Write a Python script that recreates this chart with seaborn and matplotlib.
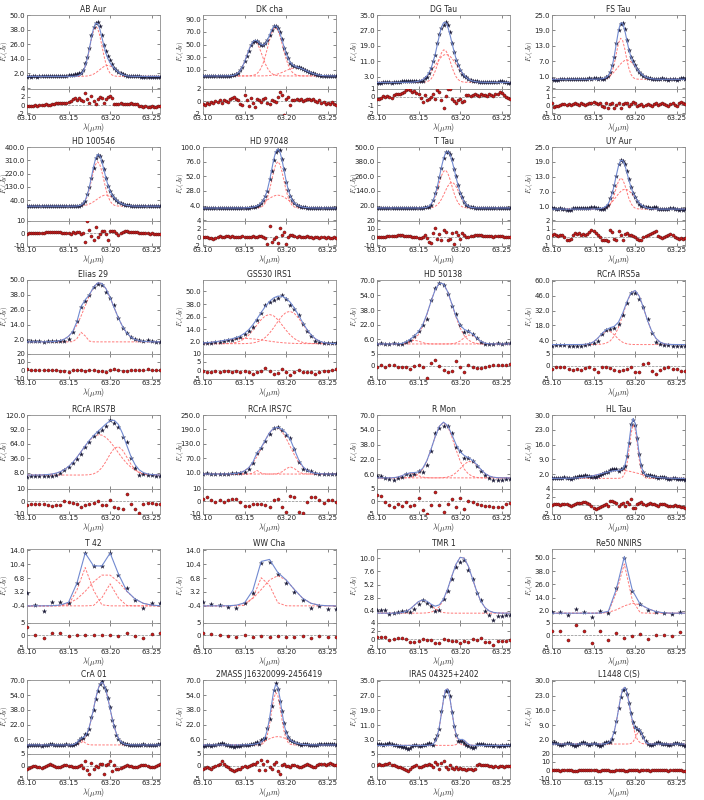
import numpy as np
import matplotlib
matplotlib.use("Agg")
import matplotlib.pyplot as plt
import seaborn as sns

X_MIN, X_MAX = 63.10, 63.26

names = ["AB Aur", "DK cha", "DG Tau", "FS Tau",
         "HD 100546", "HD 97048", "T Tau", "UY Aur",
         "Elias 29", "GSS30 IRS1", "HD 50138", "RCrA IRS5a",
         "RCrA IRS7B", "RCrA IRS7C", "R Mon", "HL Tau",
         "T 42", "WW Cha", "TMR 1", "Re50 NNIRS",
         "CrA 01", "2MASS J16320099-2456419", "IRAS 04325+2402", "L1448 C(S)"]

# continuum level of each fit (Jy)
baselines = [-0.5, 0, 0, 0,
             0, 0, 0, 0,
             0, 0, 1, 0,
             4, 5, 2, 0,
             -0.4, -0.4, 0, 0,
             0, 0, 0, 0]

# gaussian components: (amplitude Jy, centre um, sigma um)
g_ab_aur = [(41, 63.183, 0.0072), (9, 63.197, 0.0095)]
g_dk_cha = [(55, 63.162, 0.009), (77, 63.187, 0.009), (13, 63.212, 0.013)]
g_dg_tau = [(17, 63.181, 0.0075), (14.5, 63.183, 0.013)]
g_fs_tau = [(16, 63.183, 0.0058), (7.5, 63.19, 0.011)]
g_hd100546 = [(300, 63.185, 0.0072), (75, 63.195, 0.011)]
g_hd97048 = [(76, 63.19, 0.0072), (21, 63.19, 0.013)]
g_t_tau = [(310, 63.182, 0.0078), (210, 63.19, 0.0085)]
g_uy_aur = [(12.5, 63.183, 0.0065), (8, 63.188, 0.011)]
g_elias29 = [(48, 63.187, 0.017), (8, 63.166, 0.004)]
g_gss30 = [(28, 63.18, 0.016), (31, 63.204, 0.016), (5, 63.15, 0.025)]
g_hd50138 = [(67, 63.177, 0.014), (10, 63.212, 0.008), (4, 63.145, 0.007)]
g_irs5a = [(51, 63.199, 0.0125), (13, 63.167, 0.0095)]
g_irs7b = [(78, 63.187, 0.021), (55, 63.209, 0.0115)]
g_irs7c = [(193, 63.188, 0.0165), (15, 63.165, 0.003), (30, 63.205, 0.0065)]
g_r_mon = [(60, 63.18, 0.013), (18, 63.212, 0.011), (5, 63.14, 0.008)]
g_hl_tau = [(25.5, 63.198, 0.0048), (3.8, 63.182, 0.022)]
g_t42 = [(9.9, 63.17, 0.0075), (8.2, 63.195, 0.02), (5.7, 63.20, 0.007)]
g_ww_cha = [(7.8, 63.173, 0.008), (7.8, 63.19, 0.018)]
g_tmr1 = [(2.4, 63.155, 0.01), (10.3, 63.202, 0.013)]
g_re50 = [(45, 63.186, 0.0065), (9, 63.198, 0.014)]
g_cra01 = [(68, 63.19, 0.0095), (5, 63.165, 0.004)]
g_2mass = [(57, 63.188, 0.0058), (9, 63.19, 0.013)]
g_iras = [(31, 63.184, 0.006), (3, 63.203, 0.004)]
g_l1448 = [(27, 63.187, 0.007), (6, 63.205, 0.004)]

# residuals (data - fit, Jy), evenly sampled across each spectrum
r_ab_aur = [-0.2, -0.1, -0.3, -0.1, 0.0, -0.2, 0.1, 0.0, 0.1, 0.2, 0.1, 0.0, 0.2, 0.3, 0.6, 0.4, 0.5, 0.5, 0.4, 0.6, 0.7,
            0.9, 1.4, 1.6, 1.3, 1.7, 1.2, 1.0, 3.0, 1.5, 0.4, 2.2, 1.0, 0.3, 1.4, 1.9, 1.8, 0.6, 1.5, 2.0, 2.3, 1.7,
            0.3, 0.3, 0.2, 0.4, 0.3, 0.3, 0.2, 0.3, 0.4, 0.3, 0.2, 0.2, -0.1, -0.2, -0.4, -0.3, -0.5, -0.4, -0.3, -0.5, -0.4, -0.2, -0.3]
r_dk_cha = [-0.5, -0.6, -0.3, -0.4, -0.2, -0.3, 0.0, -0.1, 0.2, -0.3, 0.1, 0.0, -0.2, 0.3, 0.5, 0.7, 0.4, 0.2, -0.4, -0.6, 0.9,
            0.2, -0.8, 0.5, -0.3, -0.9, 0.3, 0.1, -0.2, 0.4, 0.5, -0.3, -0.5, 0.2, 0.0, -0.2, 0.6, 1.4, 0.9, -2.3, 0.3, 0.7,
            -0.6, 0.2, 0.1, 0.3, 0.2, 0.3, 0.0, 0.2, 0.4, 0.3, 0.1, 0.3, 0.0, -0.1, 0.1, -0.3, -0.2, -0.4, -0.3, -0.5, -0.2, -0.4, -0.6]
r_dg_tau = [-0.3, -0.2, -0.1, 0.1, 0.0, 0.1, 0.0, -0.1, 0.2, 0.3, 0.4, 0.3, 0.5, 0.6, 0.8, 0.9, 0.8, 0.6, 0.7, 0.5, 0.3,
            -0.1, -0.6, 0.2, -0.4, -0.3, 0.0, 0.4, -0.2, 0.8, 0.6, -0.4, -1.3, 0.1, 0.9, 1.0, -0.3, -0.5, -0.7, -0.4, -0.2, -0.6,
            -0.5, 0.2, 0.2, 0.1, 0.2, 0.3, 0.2, 0.1, 0.3, 0.2, 0.2, 0.1, 0.3, 0.2, 0.1, 0.3, 0.4, 0.6, 0.5, 0.2, 0.0, -0.1, -0.3]
r_fs_tau = [0.2, -0.2, -0.1, -0.1, 0.0, 0.1, 0.1, 0.0, 0.1, 0.0, 0.1, 0.2, 0.1, 0.0, 0.2, 0.1, 0.0, 0.1, 0.3, 0.2, 0.4,
            0.3, 0.1, 0.2, -0.1, -0.2, 0.2, -0.3, 0.1, 0.3, -0.4, 0.0, 0.2, -0.4, 0.1, 0.3, 0.2, -0.1, 0.1, 0.4, 0.2, -0.1,
            0.0, 0.1, -0.1, 0.0, 0.1, 0.0, -0.1, 0.1, 0.2, 0.0, 0.1, 0.3, 0.1, 0.0, -0.1, 0.1, 0.2, 0.0, -0.1, 0.2, 0.4, 0.3, 0.1]
r_hd100546 = [-0.5, -0.3, 0.2, -0.2, 0.1, 0.3, 0.0, 0.4, 0.2, 0.6, 0.8, 0.5, 0.7, 1.0, 0.8, 0.5, 0.7, 0.4, 0.3, 0.2, 0.1,
              -0.5, 0.6, -0.2, 1.2, 0.5, -0.8, 0.4, -7.5, 9.5, 2.5, -2.5, -5.5, 4.5, -3.0, -0.5, 2.0, 1.5, -1.0, -5.5, 1.5, 2.0,
              1.5, 0.0, -1.5, 0.2, 0.8, 1.3, 1.5, 1.2, 1.0, 0.8, 0.6, 0.5, 0.3, 0.4, 0.2, 0.0, -0.2, -0.4, -0.3, -0.6, -0.8, -1.0, -0.8]
r_hd97048 = [0.1, 0.0, 0.1, -0.1, -0.3, -0.4, -0.2, 0.1, 0.2, 0.1, 0.0, 0.3, 0.2, 0.1, 0.2, 0.0, 0.1, 0.0, 0.1, 0.2, 0.0,
             0.1, 0.0, 0.1, 0.2, 0.0, 0.1, 0.2, 0.3, 0.1, -0.2, -1.7, 2.7, -1.2, -0.4, 0.0, -1.4, 2.1, 0.5, 1.3, -1.6, 0.1,
             0.6, 0.4, 0.2, 0.1, 0.2, 0.1, 0.0, 0.1, 0.2, 0.1, 0.0, -0.1, 0.1, 0.0, -0.1, 0.0, 0.1, -0.1, 0.0, -0.2, -0.1, 0.0, -0.1]
r_t_tau = [0.0, 0.3, 0.5, 0.2, 0.6, 0.8, 1.0, 1.2, 1.5, 1.8, 2.0, 2.2, 2.0, 1.8, 1.5, 1.2, 0.8, 0.5, 0.3, 0.0, -0.5,
           -1.0, 0.5, 3.0, -0.8, -5.5, -7.5, 5.0, 10.5, -2.0, 3.5, -3.5, 8.0, 6.0, -4.0, -2.5, 5.5, -8.5, 6.5, 2.0, -2.5, 5.5,
           2.0, 0.5, 0.3, 0.8, 1.5, 2.0, 2.5, 2.2, 2.0, 1.8, 1.5, 1.2, 1.0, 0.8, 0.5, 0.8, 1.0, 1.2, 0.8, 0.5, 0.3, 0.2, 0.4]
r_uy_aur = [0.3, 0.4, 0.2, 0.1, 0.3, 0.2, 0.0, -0.3, -0.4, -0.2, 0.3, 0.5, 0.4, 0.5, 0.3, 0.4, 0.3, 0.4, 0.6, 0.8, 0.7,
            0.5, 0.3, 0.0, -0.3, -0.4, -0.4, -0.5, 0.8, 0.6, -0.2, -0.4, 0.7, 0.2, -0.3, 0.4, 0.5, 0.3, 0.2, 0.1, 0.0, -0.2,
            -0.4, -0.3, 0.0, 0.1, 0.3, 0.4, 0.5, 0.6, 0.7, 0.1, 0.0, -0.1, 0.0, 0.1, 0.2, 0.4, 0.3, 0.0, -0.1, -0.2, -0.1, -0.2, -0.1]
r_elias29 = [1.0, 0.8, 0.5, 0.3, 0.2, 0.5, 0.4, 0.3, -0.5, -1.5, -2.0, -0.2, 0.3, -0.3, -1.0, 0.2, 0.5,
             -0.5, -1.2, -2.5, 0.0, 2.0, 0.3, -0.8, -0.5, 0.0, 0.5, 0.8, 0.5, 1.0, 0.5, 0.0, 0.2]
r_gss30 = [-0.3, -0.8, -1.0, -0.5, -1.0, -0.7, -0.4, -1.2, -0.3, -0.8, -0.5, -1.0, -2.0, -1.3, -0.5, 1.2, -0.5,
           -2.2, -1.5, 0.8, -0.8, -2.8, -1.2, 0.2, -1.2, -1.3, -0.8, -2.0, -1.0, -0.5, -0.3, 0.2, 0.5]
r_hd50138 = [-0.3, 0.5, -0.5, 0.3, 0.5, -0.2, -0.3, -0.5, -1.2, 0.0, 0.3, -0.2, -4.8, 1.2, 2.3, 0.0, -1.5,
             -2.5, -2.0, 2.0, -0.5, -2.5, 0.3, -0.2, -0.7, -0.8, -0.5, 0.0, 0.3, 0.5, 0.4, 0.5, 0.8]
r_irs5a = [-1.0, -0.3, -0.3, -0.5, -1.0, -1.5, -1.3, -1.5, -0.8, -0.5, -1.2, -2.5, -0.5, -0.3, -0.8, -1.5, -2.0,
           -1.5, -1.0, -0.5, -2.5, -2.5, 1.0, 1.2, -2.0, -3.0, -1.5, -0.8, -0.5, -1.2, -1.2, -1.8, -1.8]
r_irs7b = [-3.0, -2.5, -2.0, -2.5, -2.0, -3.5, -4.0, -3.0, -3.0, 0.0, -1.0, -1.5, -2.5, -5.0, -3.0, -2.5, -1.5,
           0.0, -3.5, -3.5, 0.5, -5.0, -5.5, -6.5, 6.0, -2.5, -6.0, -9.5, -2.5, -1.5, -1.5, -2.0, -2.5]
r_irs7c = [2.0, 3.0, 0.5, -0.5, 1.0, -0.5, 1.0, 2.0, 1.5, -1.0, -4.0, -4.0, -2.5, -2.0, -2.0, -3.5, -5.0,
           0.5, 1.5, -4.5, -9.0, 4.0, 3.0, -9.0, -9.5, -1.0, 3.0, 3.0, 0.5, -1.5, 1.0, 0.5, -0.5]
r_r_mon = [2.5, 2.0, -0.5, -1.5, -2.5, -1.0, -1.8, -0.5, -2.0, -1.5, 1.2, -3.5, -5.0, -1.5, 3.5, -1.5, -4.5,
           -1.0, 1.0, -2.5, 1.2, -3.0, 0.0, -0.5, -1.0, -1.5, -2.0, -2.0, -2.5, -2.5, -2.5, -1.0, -0.8]
r_hl_tau = [0.1, 0.2, 0.3, 0.2, 0.0, 0.2, 0.4, 0.3, 0.1, -0.2, 0.0, 0.3, 0.5, 0.6, 0.5, 0.7, 0.8, 0.5, 0.2, -0.3, -0.6,
            -0.8, -0.6, -0.4, -0.2, 0.0, 0.2, -0.1, 0.9, 1.0, 0.8, 0.6, -0.3, 0.3, 0.5, -0.2, 0.8, 0.3, 1.4, -0.6, -0.7, 0.2,
            0.6, 0.7, 0.2, 0.0, 0.3, 0.5, 0.4, 0.2, 0.0, -0.1, 0.2, 0.4, 0.3, 0.1, -0.2, -0.3, -0.1, 0.0, -0.2, -0.3, -0.4, -0.5, -0.6]
r_t42 = [3.4, 0.2, -1.3, 1.0, 0.8, -0.3, 0.0, 0.0, 0.0, 0.0, 0.0, -0.3, 0.8, -0.3, -1.3, 0.5, 0.7]
r_ww_cha = [1.0, 0.6, 0.1, -0.3, -0.6, -0.1, -0.6, -0.3, -0.7, -0.3, -0.8, -0.7, -0.3, -1.3, -0.2, -0.8, -0.7]
r_tmr1 = [0.5, 0.5, 0.5, -0.1, 0.1, 0.2, 0.2, 0.1, -0.6, -0.7, -0.5, 0.0, -0.3, -0.3, -0.8, -0.9, 0.0,
          -0.3, -0.5, -0.5, -0.8, -0.4, -0.7, 0.0, -0.3, 0.3, -0.7, -0.7, -1.4, -0.5, -0.5, -0.4, -0.3]
r_re50 = [1.5, 1.5, -2.0, 4.0, 1.5, -3.0, 1.5, -2.0, 1.0, -1.0, -0.5, 0.3, -1.5, 0.2, 0.0, -0.5, 1.1, -1.0]
r_cra01 = [-1.0, -0.6, -0.2, 0.2, 0.0, -0.3, -0.5, -0.8, -0.5, 0.0, 0.4, 0.8, 0.5, 0.0, -0.3, -0.5, -0.2, 0.0, 0.3, 0.5, 0.2,
           0.0, -0.2, -0.5, -0.3, 0.0, 0.5, -0.8, 2.0, -1.5, -3.0, 1.2, -1.0, 0.2, -0.5, 0.8, 1.0, -3.0, 0.6, 0.8, 2.2, -1.8,
           0.5, -1.2, -1.0, -0.6, -0.3, 0.0, 0.4, 0.2, 0.0, -0.3, -0.5, -0.2, 0.0, 0.3, 0.5, 0.4, 0.0, -0.2, -0.4, -0.2, 0.2, 0.5, 0.8]
r_2mass = [-1.0, -0.8, -0.3, -0.6, -1.0, -0.5, 0.0, 0.5, 1.0, 2.0, 0.8, 0.0, -0.5, -1.0, -1.5, -1.8, -1.5, -1.2, -1.0, -0.5, 0.0,
           -0.3, 0.2, 0.5, 0.8, 1.0, 1.5, -1.5, 2.5, 0.8, -1.5, 2.0, -0.5, -1.2, 1.0, 1.5, -2.0, -3.0, 0.5, 0.8, 0.2, 0.0,
           -0.5, 0.3, 0.5, 0.0, -0.3, -0.5, 0.0, 0.5, 0.8, 0.3, 0.0, -0.5, -0.2, 0.3, 0.8, 1.0, 0.7, 0.5, 0.8, 1.2, 1.0, 0.5, 0.3]
r_iras = [0.5, 0.8, 0.6, 0.3, 1.0, 0.8, 1.2, 0.5, 0.3, 0.0, -0.5, -0.3, -0.8, -1.0, -1.5, -1.8, -1.2, -0.5, 0.0, 0.3, -0.2,
          -0.5, 0.0, 0.3, 0.5, 1.0, 0.3, -0.5, 1.5, 0.8, -1.0, 1.2, 2.0, -0.5, -1.0, 0.5, -0.8, -1.0, -0.5, -1.2, -0.8, -1.0,
          -1.3, -1.5, -1.0, -1.2, -1.5, -1.0, 0.5, 0.8, 0.6, 0.5, 0.4, 0.3, 0.2, 0.0, -0.2, 0.0, -0.3, -0.1, 0.0, -0.2, 0.0, 0.1, 0.0]
r_l1448 = [0.5, 0.8, 0.3, 0.0, -0.5, -0.3, 0.2, 0.5, 0.3, 0.0, -0.4, -0.8, -0.5, 0.0, 0.5, 0.8, 0.4, 0.0, -0.3, 0.2, 0.5,
           0.0, -0.5, -0.8, -0.3, 0.5, 0.8, 0.2, -0.5, -1.0, -0.5, 0.3, 0.8, 0.5, -0.2, -0.8, -1.0, -0.3, 0.5, 0.8, 0.3, -0.2,
           -0.5, 0.0, 0.5, 0.3, -0.2, -0.5, -0.3, 0.2, 0.5, 0.8, 0.5, 0.2, 0.0, -0.2, -0.5, -0.3, 0.0, 0.3, 0.5, 0.2, -0.2, -0.5, -0.8]

gauss = [g_ab_aur, g_dk_cha, g_dg_tau, g_fs_tau,
         g_hd100546, g_hd97048, g_t_tau, g_uy_aur,
         g_elias29, g_gss30, g_hd50138, g_irs5a,
         g_irs7b, g_irs7c, g_r_mon, g_hl_tau,
         g_t42, g_ww_cha, g_tmr1, g_re50,
         g_cra01, g_2mass, g_iras, g_l1448]
resids = [r_ab_aur, r_dk_cha, r_dg_tau, r_fs_tau,
          r_hd100546, r_hd97048, r_t_tau, r_uy_aur,
          r_elias29, r_gss30, r_hd50138, r_irs5a,
          r_irs7b, r_irs7c, r_r_mon, r_hl_tau,
          r_t42, r_ww_cha, r_tmr1, r_re50,
          r_cra01, r_2mass, r_iras, r_l1448]
# wavelength range covered by the samples
x_ranges = [(63.10, 63.26)] * 24
x_ranges[19] = (63.1006, 63.2638)

# axis settings: (first y tick, tick step, ylim low, ylim high)
main_axes = [(2, 12, -10.5, 50), (10, 20, -20, 97), (3, 8, -3.2, 35), (1, 6, -3.6, 25),
             (40, 90, -97, 400), (4, 24, -20.5, 100), (20, 120, -103, 500), (1, 6, -4.6, 25),
             (2, 12, -9.4, 50), (2, 12, -9.4, 61), (6, 16, -9.4, 70.7), (4, 14, -8.4, 60.7),
             (8, 28, -22, 120), (10, 60, -55, 250), (6, 16, -9.5, 70), (2, 7, -4.8, 30),
             (-0.4, 3.6, -4.7, 14.3), (-0.4, 3.6, -4.7, 14.3), (0.4, 2.4, -1.7, 11.7), (2, 12, -8.4, 58),
             (6, 16, -9.3, 70.5), (6, 16, -9.3, 70.5), (3, 8, -4.4, 35.4), (2, 7, -4.5, 30.4)]
# residual axis: (low, high, step)
res_axes = [(-2, 4, 2), (-2, 2, 2), (-2, 1, 1), (-1, 2, 1),
            (-10, 10, 10), (-2, 4, 2), (-10, 20, 10), (-1, 2, 1),
            (-10, 20, 10), (-5, 10, 5), (-5, 5, 5), (-5, 5, 5),
            (-10, 10, 10), (-10, 10, 10), (-5, 5, 5), (-2, 4, 2),
            (-5, 5, 5), (-5, 5, 5), (-2, 4, 2), (-5, 5, 5),
            (-5, 5, 5), (-5, 5, 5), (-5, 5, 5), (-10, 20, 10)]
no_xlabel = {"DK cha", "HD 50138"}

sns.set_style("ticks")
plt.rcParams.update({
    "font.family": ["DejaVu Sans"],
    "mathtext.fontset": "cm",
    "xtick.direction": "in",
    "ytick.direction": "in",
    "xtick.top": True,
    "ytick.right": True,
    "xtick.major.size": 2.5,
    "ytick.major.size": 2.5,
    "xtick.major.width": 0.5,
    "ytick.major.width": 0.5,
    "axes.edgecolor": "#8c8c8c",
    "axes.linewidth": 0.6,
    "xtick.color": "#555555",
    "ytick.color": "#555555",
    "xtick.labelcolor": "#222222",
    "ytick.labelcolor": "#222222",
    "xtick.labelsize": 5,
    "ytick.labelsize": 5,
})

W, H = 704, 800
fig = plt.figure(figsize=(W / 100, H / 100), dpi=100)

col_left = [27, 203, 377, 552]
row_top = [15, 147, 280, 415, 549, 680]
ax_w, main_h, res_h = 133, 73.5, 25

FIT_C = "#7189d0"
COMP_C = "#ff6b6b"
DATA_C = "#1d1d3a"
RES_C = "#c81e1e"

for i, name in enumerate(names):
    r, c = divmod(i, 4)
    left = col_left[c] / W
    top = row_top[r]
    ax = fig.add_axes([left, 1 - (top + main_h) / H, ax_w / W, main_h / H])
    axr = fig.add_axes([left, 1 - (top + main_h + res_h) / H, ax_w / W, res_h / H])

    res = np.array(resids[i], dtype=float)
    x = np.linspace(x_ranges[i][0], x_ranges[i][1], len(res))
    base = baselines[i]
    parts = [a * np.exp(-(x - cen) ** 2 / (2 * s ** 2)) for a, cen, s in gauss[i]]
    fit = base + np.sum(parts, axis=0)
    flux = fit + res

    for p in parts:
        sns.lineplot(x=x, y=base + p, ax=ax, color=COMP_C, linewidth=0.7,
                     linestyle=(0, (2.5, 1.5)), alpha=0.9)
    sns.scatterplot(x=x, y=flux, ax=ax, marker="*", s=16, color=DATA_C,
                    linewidth=0, zorder=3)
    sns.lineplot(x=x, y=fit, ax=ax, color=FIT_C, linewidth=0.8, zorder=4)

    t0, step, ylo, yhi = main_axes[i]
    ax.set_xlim(X_MIN, X_MAX)
    ax.set_ylim(ylo, yhi)
    ax.set_yticks([t0 + k * step for k in range(5)])
    ax.set_yticklabels([f"{t0 + k * step:.1f}" for k in range(5)])
    ax.set_xticks([63.10, 63.15, 63.20, 63.25])
    ax.set_xticklabels([])
    ax.set_xlabel("")
    ax.set_ylabel(r"$F_\nu(Jy)$", fontsize=5)
    ax.yaxis.set_label_coords(-0.125, 0.5)
    ax.set_title(name, fontsize=5.5, pad=2)
    ax.tick_params(axis="y", pad=1.5)

    axr.axhline(0, color="#888888", linestyle="--", linewidth=0.5, zorder=1)
    sns.scatterplot(x=x, y=res, ax=axr, marker="o", s=5, color=RES_C,
                    edgecolor="#4a0c0c", linewidth=0.3, zorder=3)
    lo, hi, rstep = res_axes[i]
    axr.set_xlim(X_MIN, X_MAX)
    axr.set_ylim(lo, hi)
    axr.set_yticks(np.arange(lo, hi + rstep / 2, rstep))
    axr.set_yticklabels([f"{v:d}" for v in range(lo, hi + 1, rstep)])
    axr.set_xticks([63.10, 63.15, 63.20, 63.25])
    axr.set_xticklabels(["63.10", "63.15", "63.20", "63.25"])
    axr.tick_params(axis="x", pad=1)
    axr.tick_params(axis="y", pad=1.5)
    axr.set_ylabel("")
    if name in no_xlabel:
        axr.set_xlabel("")
    else:
        axr.set_xlabel(r"$\lambda(\mu m)$", fontsize=5.5, labelpad=0)

fig.savefig("out.png", dpi=100)
